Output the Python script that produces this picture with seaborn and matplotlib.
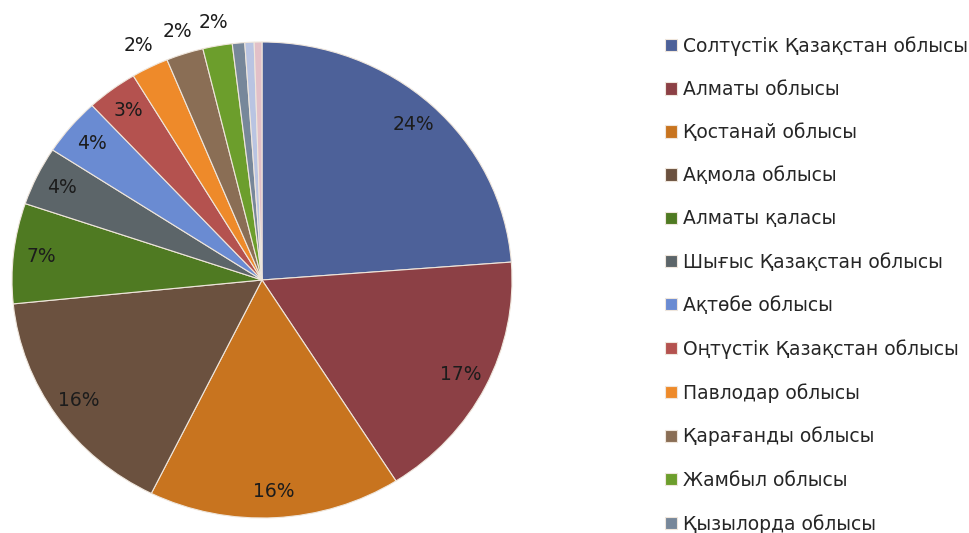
import matplotlib
matplotlib.use("Agg")
import matplotlib.pyplot as plt
import seaborn as sns
import numpy as np

# Regional shares, clockwise from 12 o'clock
regions = [
    "Солтүстік Қазақстан облысы",
    "Алматы облысы",
    "Қостанай облысы",
    "Ақмола облысы",
    "Алматы қаласы",
    "Шығыс Қазақстан облысы",
    "Ақтөбе облысы",
    "Оңтүстік Қазақстан облысы",
    "Павлодар облысы",
    "Қарағанды облысы",
    "Жамбыл облысы",
    "Қызылорда облысы",
    "Астана қаласы",
    "Батыс Қазақстан облысы",
]
shares = [23.8, 17.2, 16.3, 16.1, 6.8, 4.0, 3.9, 3.3, 2.4, 2.4, 1.9, 0.8, 0.6, 0.5]
colors = [
    "#4d6199", "#8c4045", "#c8741f", "#6b513f", "#4f7a22", "#5c6569",
    "#6a8bd2", "#b4524f", "#ee8a2a", "#8a6e55", "#6c9e2c", "#77879a",
    "#b9c4e2", "#e2c0c8",
]
legend_count = 12

sns.set_theme(style="white")
plt.rcParams["font.family"] = ["DejaVu Sans"]

fig = plt.figure(figsize=(9.7, 5.33), dpi=100)
ax = fig.add_axes([12 / 970, 15 / 533, 500 / 970, 476 / 533])


def pct_label(p):
    return f"{p:.0f}%" if p >= 1.5 else ""


wedges, texts, autotexts = ax.pie(
    shares,
    colors=colors,
    startangle=90,
    counterclock=False,
    autopct=pct_label,
    pctdistance=0.89,
    wedgeprops=dict(edgecolor="#efe6dc", linewidth=0.8),
    textprops=dict(fontsize=13.5, color="#1c1c1c"),
)

# labels of the thin slices sit just outside the rim
for w, t, p in zip(wedges, autotexts, shares):
    if 1.5 <= p < 3:
        ang = np.deg2rad((w.theta1 + w.theta2) / 2)
        t.set_position((1.1 * np.cos(ang), 1.1 * np.sin(ang)))

ax.set_aspect("auto")
ax.set_xlim(-1, 1)
ax.set_ylim(-1, 1)
ax.axis("off")

fig.legend(
    wedges[:legend_count],
    regions[:legend_count],
    loc="upper left",
    bbox_to_anchor=(665 / 970, 1 - 36 / 533),
    frameon=False,
    fontsize=13.5,
    handlelength=0.65,
    handleheight=0.65,
    handletextpad=0.3,
    labelspacing=1.29,
    borderaxespad=0,
    borderpad=0,
)

fig.savefig("out.png", dpi=100, facecolor="white")
